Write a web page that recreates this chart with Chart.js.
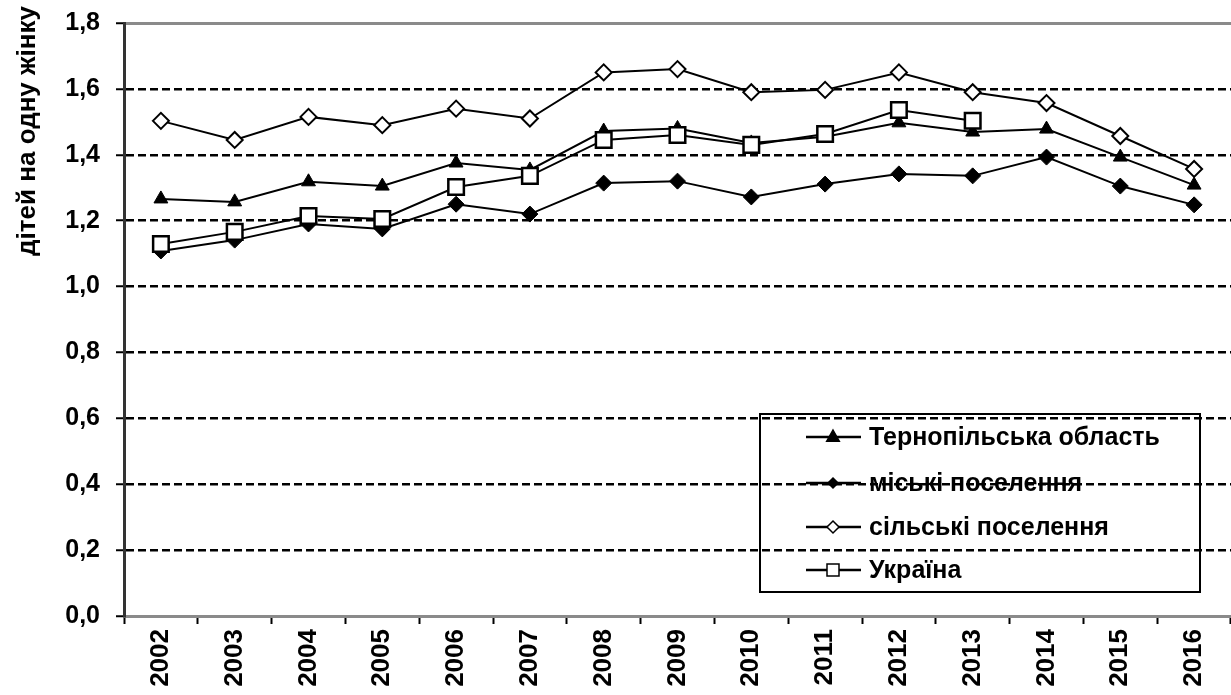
<!DOCTYPE html>
<html>
<head>
<meta charset="utf-8">
<script src="https://cdn.jsdelivr.net/npm/chart.js@4.4.1/dist/chart.umd.min.js"></script>
<style>
html,body{margin:0;padding:0;background:#fff;overflow:hidden;}
#wrap{width:1231px;height:695px;position:relative;}
canvas{display:block;}
</style>
</head>
<body>
<div id="wrap"><canvas id="c"></canvas></div>
<script>
const years = ['2002','2003','2004','2005','2006','2007','2008','2009','2010','2011','2012','2013','2014','2015','2016'];
const ternopil = [1.266,1.257,1.318,1.305,1.375,1.354,1.472,1.480,1.436,1.455,1.497,1.469,1.478,1.393,1.308];
const urban    = [1.108,1.141,1.190,1.175,1.250,1.220,1.314,1.320,1.272,1.311,1.342,1.336,1.393,1.305,1.248];
const rural    = [1.503,1.445,1.515,1.490,1.540,1.510,1.650,1.660,1.590,1.597,1.650,1.590,1.557,1.457,1.357];
const ukraine  = [1.129,1.166,1.214,1.205,1.302,1.336,1.445,1.460,1.430,1.463,1.536,1.503,null,null,null];
const seriesNames = ['Тернопільська область','міські поселення','сільські поселення','Україна'];
const yTickLabels = ['0,0','0,2','0,4','0,6','0,8','1,0','1,2','1,4','1,6','1,8'];
const yTitle = 'дітей на одну жінку';

const FONT = "'Liberation Sans', Arial, sans-serif";

function drawMarker(ctx, kind, x, y, r, fill) {
  ctx.save();
  ctx.beginPath();
  if (kind === 'triangle') {
    ctx.moveTo(x, y - r);
    ctx.lineTo(x + r * 0.9, y + r * 0.6);
    ctx.lineTo(x - r * 0.9, y + r * 0.6);
    ctx.closePath();
  } else if (kind === 'diamond') {
    ctx.moveTo(x, y - r); ctx.lineTo(x + r, y); ctx.lineTo(x, y + r); ctx.lineTo(x - r, y); ctx.closePath();
  } else {
    ctx.rect(x - r, y - r, 2 * r, 2 * r);
  }
  ctx.fillStyle = fill;
  ctx.fill();
  ctx.lineWidth = 1.5;
  ctx.strokeStyle = '#000';
  ctx.stroke();
  ctx.restore();
}

const customPlugin = {
  id: 'custom',
  afterDraw(chart) {
    const ctx = chart.ctx;
    // Y axis title
    ctx.save();
    ctx.translate(28, 131);
    ctx.rotate(-Math.PI / 2);
    ctx.font = 'bold 26px ' + FONT;
    ctx.fillStyle = '#000';
    ctx.textAlign = 'center';
    ctx.textBaseline = 'middle';
    ctx.fillText(yTitle, 0, 0);
    ctx.restore();
    // Legend
    ctx.save();
    ctx.lineWidth = 2;
    ctx.strokeStyle = '#000';
    ctx.strokeRect(760, 414, 440, 178);
    const ys = [437, 483, 527, 570];
    const kinds = [['triangle','#000',7],['diamond','#000',5],['diamond','#fff',6],['square','#fff',6]];
    chart.data.datasets.forEach((ds, i) => {
      const y = ys[i];
      ctx.beginPath();
      ctx.lineWidth = 2.5;
      ctx.strokeStyle = '#000';
      ctx.moveTo(806, y); ctx.lineTo(861, y); ctx.stroke();
      drawMarker(ctx, kinds[i][0], 833, y, kinds[i][2], kinds[i][1]);
      ctx.font = 'bold 25px ' + FONT;
      ctx.fillStyle = '#000';
      ctx.textAlign = 'left';
      ctx.textBaseline = 'middle';
      ctx.fillText(ds.label, 869, y + 1);
    });
    ctx.restore();
  }
};

new Chart(document.getElementById('c'), {
  type: 'line',
  data: {
    labels: years,
    datasets: [
      { label: seriesNames[0], data: ternopil, order: 1, borderColor: '#000', backgroundColor: '#000', borderWidth: 2,
        pointStyle: 'triangle', pointRadius: 8, pointBackgroundColor: '#000', pointBorderColor: '#000', pointBorderWidth: 1 },
      { label: seriesNames[1], data: urban, order: 2, borderColor: '#000', backgroundColor: '#000', borderWidth: 2,
        pointStyle: 'rectRot', pointRadius: 8, pointBackgroundColor: '#000', pointBorderColor: '#000', pointBorderWidth: 1 },
      { label: seriesNames[2], data: rural, order: 3, borderColor: '#000', backgroundColor: '#fff', borderWidth: 2,
        pointStyle: 'rectRot', pointRadius: 8, pointBackgroundColor: '#fff', pointBorderColor: '#000', pointBorderWidth: 2 },
      { label: seriesNames[3], data: ukraine, order: 0, borderColor: '#000', backgroundColor: '#fff', borderWidth: 2,
        pointStyle: 'rect', pointRadius: 11, pointBackgroundColor: '#fff', pointBorderColor: '#000', pointBorderWidth: 2.5 }
    ]
  },
  options: {
    responsive: true,
    maintainAspectRatio: false,
    animation: false,
    layout: { autoPadding: false, padding: { top: 23, left: 0, right: 0, bottom: 0 } },
    elements: { line: { tension: 0 } },
    plugins: { legend: { display: false }, tooltip: { enabled: false } },
    scales: {
      x: {
        type: 'category',
        offset: true,
        grid: { offset: true, drawOnChartArea: false, drawTicks: true, tickLength: 8, tickColor: '#000', tickWidth: 2 },
        border: { display: true, color: '#8a8a8a', width: 3 },
        ticks: { font: { family: FONT, size: 26, weight: 'bold' }, color: '#000', maxRotation: 90, minRotation: 90, padding: 5, autoSkip: false },
        afterFit(s) { s.height = 79; s.paddingLeft = 0; s.paddingRight = 0; }
      },
      xTop: {
        type: 'category',
        position: 'top',
        offset: true,
        grid: { display: false, drawTicks: false },
        border: { display: true, color: '#8a8a8a', width: 3 },
        ticks: { display: false },
        afterFit(s) { s.height = 0; s.paddingLeft = 0; s.paddingRight = 0; }
      },
      y: {
        min: 0, max: 1.8,
        ticks: { stepSize: 0.2, padding: 16, color: '#000', font: { family: FONT, size: 25, weight: 'bold' },
          callback: (v, i) => yTickLabels[i] },
        grid: {
          color: (c) => (c.index === 0 || c.index === yTickLabels.length - 1) ? 'rgba(0,0,0,0)' : '#000',
          lineWidth: 2.5, tickLength: 8, tickColor: '#000', tickWidth: 2, drawTicks: true
        },
        border: { display: true, color: '#333', width: 3, dash: [8, 4] },
        afterFit(s) { s.width = 124; s.paddingTop = 0; s.paddingBottom = 0; }
      }
    }
  },
  plugins: [customPlugin]
});
</script>
</body>
</html>
